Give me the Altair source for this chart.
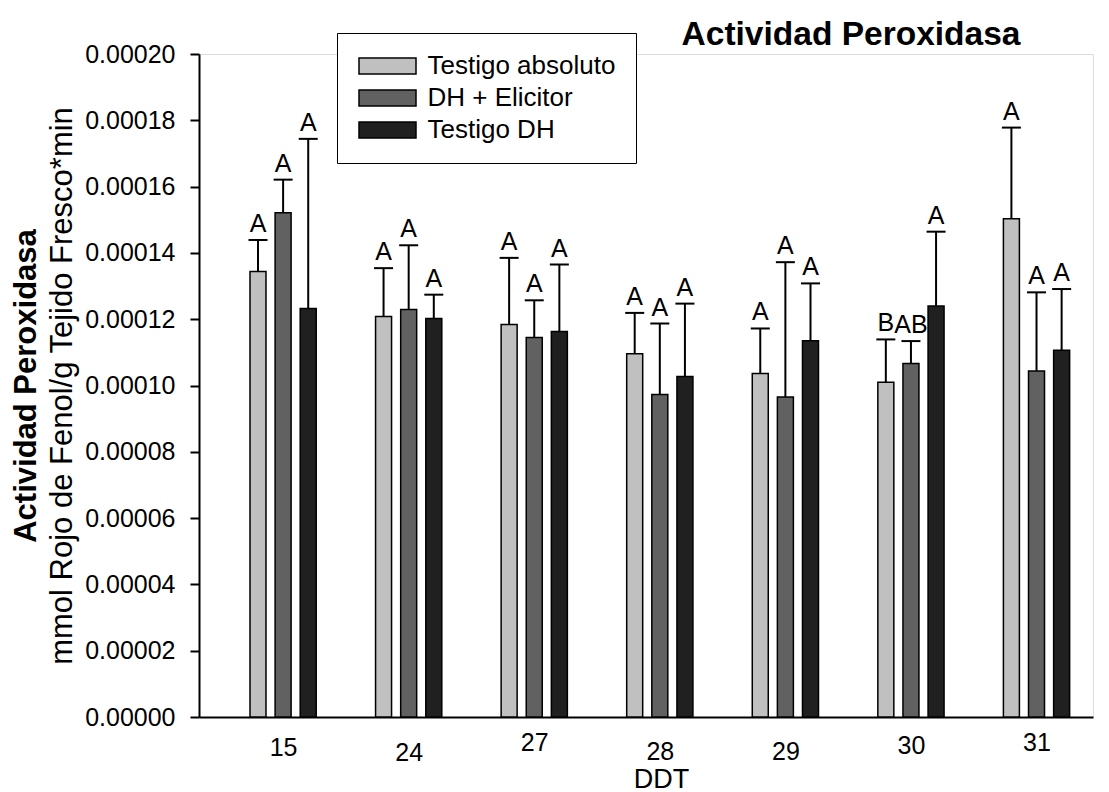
import altair as alt
import pandas as pd

FONT = "Liberation Sans"

chart_title = "Actividad Peroxidasa"
ddt = ["15", "24", "27", "28", "29", "30", "31"]
series = ["Testigo absoluto", "DH + Elicitor", "Testigo DH"]
colors = ["#c0c0c0", "#616161", "#202020"]

mean_abs = [0.0001344, 0.0001208, 0.0001184, 0.0001096, 0.0001036, 0.0001010, 0.0001503]
mean_eli = [0.0001521, 0.0001229, 0.0001145, 0.0000973, 0.0000965, 0.0001066, 0.0001044]
mean_dh = [0.0001232, 0.0001202, 0.0001163, 0.0001027, 0.0001135, 0.0001240, 0.0001106]

upper_abs = [0.0001439, 0.0001354, 0.0001385, 0.0001219, 0.0001172, 0.0001139, 0.0001778]
upper_eli = [0.0001621, 0.0001423, 0.0001257, 0.0001187, 0.0001372, 0.0001134, 0.0001281]
upper_dh = [0.0001744, 0.0001274, 0.0001365, 0.0001247, 0.0001308, 0.0001464, 0.0001291]

letters_abs = ["A", "A", "A", "A", "A", "B", "A"]
letters_eli = ["A", "A", "A", "A", "A", "AB", "A"]
letters_dh = ["A", "A", "A", "A", "A", "A", "A"]

means = [mean_abs, mean_eli, mean_dh]
uppers = [upper_abs, upper_eli, upper_dh]
letters = [letters_abs, letters_eli, letters_dh]

rows = []
for i, d in enumerate(ddt):
    for k, s in enumerate(series):
        rows.append({"ddt": d, "idx": i, "sidx": k, "series": s,
                     "mean": means[k][i], "upper": uppers[k][i], "letter": letters[k][i]})
df = pd.DataFrame(rows)

label_expr = "[" + ",".join("'%s'" % d for d in ddt) + "][datum.value]"

# uneven baseline of the x tick labels in the original figure
label_pad = {
    "condition": [
        {"test": "datum.value == 1", "value": 23},
        {"test": "datum.value == 2", "value": 13},
        {"test": "datum.value == 3", "value": 22},
        {"test": "datum.value == 4", "value": 22},
        {"test": "datum.value == 5", "value": 16},
        {"test": "datum.value == 6", "value": 13},
    ],
    "value": 18,
}

x_enc = alt.X(
    "xpos:Q",
    scale=alt.Scale(domain=[-0.63, 6.41], nice=False, zero=False),
    axis=alt.Axis(
        values=list(range(len(ddt))), labelExpr=label_expr, ticks=False, tickSize=0,
        grid=False, domainColor="black", domainWidth=2, labelFont=FONT, labelFontSize=25,
        labelColor="black", labelPadding=label_pad, labelBaseline="top",
        title="DDT", titleFont=FONT, titleFontSize=27, titleFontWeight="normal",
        titleColor="black", titleX=462, titleY=70, titleBaseline="alphabetic",
        titleAlign="center",
    ),
)

yscale = alt.Scale(domain=[0, 0.0002], nice=False, zero=True)

base = alt.Chart(df).transform_calculate(xpos="datum.idx + (datum.sidx - 1) * 0.2")

rules = base.mark_rule(color="black", strokeWidth=2).encode(
    x=x_enc,
    y=alt.Y("mean:Q", scale=yscale, axis=None),
    y2="upper:Q",
)

bars = base.mark_bar(width=16, stroke="black", strokeWidth=1.5, opacity=1).encode(
    x=x_enc,
    y=alt.Y(
        "mean:Q", scale=yscale,
        axis=alt.Axis(
            orient="left", values=[i * 0.00002 for i in range(11)], format=".5f",
            grid=False, tickSize=9, tickWidth=2, tickColor="black", domainColor="black",
            domainWidth=2, labelFont=FONT, labelFontSize=25, labelColor="black",
            labelPadding=15,
            title="mmol Rojo de Fenol/g Tejido Fresco*min", titleFont=FONT,
            titleFontSize=31, titleFontWeight="normal", titleColor="black",
            titleX=-128, titleBaseline="alphabetic", titleAngle=270,
        ),
    ),
    color=alt.Color(
        "series:N",
        scale=alt.Scale(domain=series, range=colors),
        legend=alt.Legend(
            title=None, orient="none", legendX=138, legendY=-21,
            symbolType="M-3.5625,-1L3.5625,-1L3.5625,1L-3.5625,1Z", symbolSize=256,
            symbolOffset=17.5,
            symbolStrokeColor="black", symbolStrokeWidth=1.5, symbolOpacity=1,
            labelFont=FONT, labelFontSize=26, labelColor="black", labelOffset=27,
            labelLimit=400,
            padding=20, rowPadding=6, strokeColor="black", fillColor="white",
            cornerRadius=0,
        ),
    ),
)

caps = base.mark_tick(orient="horizontal", size=19, thickness=2, color="black", opacity=1).encode(
    x=x_enc,
    y=alt.Y("upper:Q", scale=yscale, axis=None),
)

texts = base.mark_text(dy=-8, baseline="alphabetic", align="center", font=FONT,
                       fontSize=25, color="black").encode(
    x=x_enc,
    y=alt.Y(
        "upper:Q", scale=yscale,
        axis=alt.Axis(
            orient="left", labels=False, ticks=False, domain=False, grid=False,
            title="Actividad Peroxidasa", titleFont=FONT, titleFontSize=31,
            titleFontWeight="bold", titleColor="black", titleX=-164,
            titleBaseline="alphabetic", titleAngle=270,
        ),
    ),
    text="letter:N",
)

# chart heading, placed at the top right as in the original figure
heading = alt.Chart(pd.DataFrame({"t": [chart_title]})).mark_text(
    font=FONT, fontSize=33.5, fontWeight="bold", color="black",
    align="center", baseline="alphabetic",
).encode(text="t:N", x=alt.value(652), y=alt.value(-9))

chart = (
    alt.layer(rules, bars, caps, texts, heading)
    .resolve_axis(y="independent")
    .properties(
        width=894, height=663,
        autosize=alt.AutoSizeParams(type="none"),
        padding={"left": 199, "top": 54, "right": 16, "bottom": 75},
    )
    .configure_view(stroke=None)
    .configure(background="white")
)

chart.save("out.html", embed_options={"renderer": "svg", "actions": False})
